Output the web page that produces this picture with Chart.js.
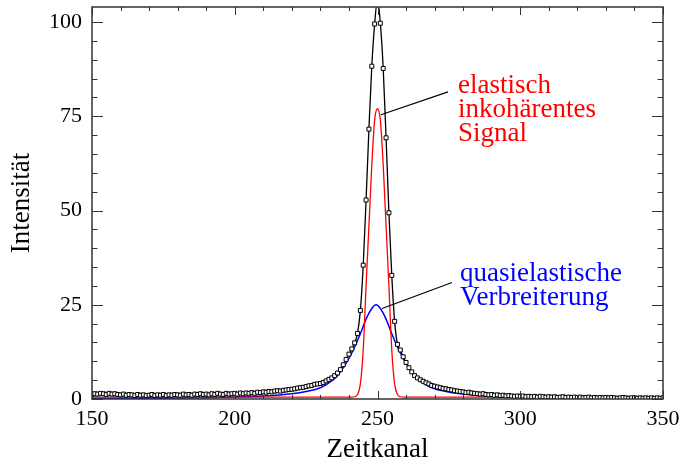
<!DOCTYPE html>
<html>
<head>
<meta charset="utf-8">
<script src="https://cdn.jsdelivr.net/npm/chart.js@4.4.1/dist/chart.umd.min.js"></script>
<style>
  html, body { margin: 0; padding: 0; background: #fff; }
  #wrap { width: 684px; height: 466px; }
</style>
</head>
<body>
<div id="wrap"><canvas id="chart"></canvas></div>
<script>
// ── Messdaten (Zeitkanal 150 … 350, ein Wert pro Kanal) ─────────
const firstChannel = 150;
const counts = [
  1.2, 1.4, 1.3, 1.5, 1.4, 1.2, 1.5, 1.3, 1.4, 1.2,
  1.1, 1.3, 1.0, 1.2, 1.1, 0.9, 1.2, 1.0, 1.1, 0.9,
  1.0, 1.2, 0.9, 1.1, 1.0, 1.2, 0.9, 1.1, 1.0, 1.2,
  1.1, 1.0, 1.3, 1.1, 1.2, 1.0, 1.3, 1.2, 1.4, 1.2,
  1.3, 1.1, 1.4, 1.2, 1.5, 1.3, 1.2, 1.5, 1.3, 1.4,
  1.5, 1.3, 1.6, 1.4, 1.6, 1.5, 1.7, 1.5, 1.8, 1.7,
  1.9, 1.8, 2.0, 1.9, 2.1, 2.2, 2.1, 2.3, 2.4, 2.5,
  2.6, 2.7, 2.9, 3.0, 3.1, 3.3, 3.5, 3.6, 3.9, 4.0,
  4.1, 4.4, 4.8, 5.2, 5.6, 6.2, 6.9, 7.8, 9.1, 10.5,
  11.9, 13.3, 14.9, 17.4, 23.5, 35.5, 52.8, 71.6, 88.3, 99.5,
  106, 99.7, 87.7, 69.3, 49.4, 32.8, 20.6, 14.5, 13.0, 11.2,
  9.7, 8.3, 7.2, 6.2, 5.6, 5.1, 4.7, 4.3, 4.0, 3.6,
  3.4, 3.2, 3.0, 2.8, 2.7, 2.5, 2.4, 2.2, 2.1, 2.0,
  1.9, 1.7, 1.8, 1.6, 1.5, 1.4, 1.3, 1.4, 1.2, 1.1,
  1.2, 1.0, 1.1, 0.9, 1.0, 0.8, 0.9, 0.8, 0.7, 0.8,
  0.7, 0.8, 0.6, 0.7, 0.6, 0.7, 0.5, 0.7, 0.6, 0.5,
  0.6, 0.5, 0.6, 0.4, 0.5, 0.6, 0.4, 0.5, 0.4, 0.5,
  0.4, 0.5, 0.3, 0.4, 0.5, 0.3, 0.4, 0.3, 0.4, 0.3,
  0.4, 0.3, 0.4, 0.3, 0.2, 0.3, 0.4, 0.3, 0.2, 0.3,
  0.3, 0.2, 0.3, 0.2, 0.3, 0.2, 0.3, 0.2, 0.3, 0.2, 0.3
];
const channels = counts.map((_, i) => firstChannel + i);

// ── elastisch inkohärentes Signal (rot) ────────────────────────
const elasticX = [150, 241, 242, 243, 244, 245, 246, 247, 248, 249, 250, 251, 252, 253, 254, 255, 256, 257, 258, 259, 350];
const elasticY = [0.5, 0.5, 0.6, 1.2, 4.0, 13, 30, 46, 62, 74, 77, 74, 62, 46, 30, 13, 4.0, 1.2, 0.6, 0.5, 0.5];

// ── quasielastische Verbreiterung (blau) ───────────────────────
const quasiX = [150, 170, 190, 200, 210, 220, 225, 230, 233, 236, 238, 240, 242, 244, 246, 248, 249.5,
                251, 253, 255, 257, 259, 261, 263, 266, 269, 274, 279, 289, 299, 310, 330, 350];
const quasiY = [0.1, 0.2, 0.35, 0.5, 0.8, 1.4, 2.0, 3.0, 4.3, 6.2, 8.3, 10.8, 13.8, 17.3, 21.2, 24.0, 25.0,
                24.0, 21.2, 17.3, 13.8, 10.8, 8.3, 6.2, 4.3, 3.0, 2.0, 1.4, 0.8, 0.5, 0.35, 0.2, 0.1];

// ── Achsen ─────────────────────────────────────────────────────
const xTicks = [150, 200, 250, 300, 350];
const yTicks = [0, 25, 50, 75, 100];

// ── Beschriftungen mit Hinweislinie (Datenkoordinaten) ─────────
const notes = [
  { lines: ["elastisch", "inkohärentes", "Signal"], color: "#ff0000", at: [278.2, 81.2], from: [251.2, 75.4], to: [274.7, 81.5] },
  { lines: ["quasielastische", "Verbreiterung"],    color: "#0000ff", at: [278.9, 31.4], from: [251.6, 24.0], to: [276.1, 30.9] },
];

const SERIF = "'Liberation Serif', 'Times New Roman', serif";
const pairs = (xs, ys) => xs.map((x, i) => ({ x, y: ys[i] }));

// Rahmen, nach innen zeigende Ticks und Anmerkungen
const framePlugin = {
  id: "frame",
  afterDatasetsDraw(chart) {
    const { ctx, chartArea: a, scales: { x, y } } = chart;
    ctx.save();
    ctx.strokeStyle = "#333";
    ctx.lineWidth = 1.5;
    ctx.strokeRect(a.left, a.top, a.right - a.left, a.bottom - a.top);

    ctx.lineWidth = 1;
    ctx.beginPath();
    for (let v = x.min; v <= x.max; v += 10) {
      const px = Math.round(x.getPixelForValue(v)) + 0.5;
      const len = (v - x.min) % 50 === 0 ? 8 : 4;
      ctx.moveTo(px, a.bottom); ctx.lineTo(px, a.bottom - len);
      ctx.moveTo(px, a.top);    ctx.lineTo(px, a.top + len);
    }
    for (let v = 0; v <= y.max; v += 5) {
      const py = Math.round(y.getPixelForValue(v)) + 0.5;
      const len = v % 25 === 0 ? 11 : 5.5;
      ctx.moveTo(a.left, py);  ctx.lineTo(a.left + len, py);
      ctx.moveTo(a.right, py); ctx.lineTo(a.right - len, py);
    }
    ctx.stroke();

    notes.forEach(n => {
      ctx.strokeStyle = "#000";
      ctx.lineWidth = 1.2;
      ctx.beginPath();
      ctx.moveTo(x.getPixelForValue(n.from[0]), y.getPixelForValue(n.from[1]));
      ctx.lineTo(x.getPixelForValue(n.to[0]), y.getPixelForValue(n.to[1]));
      ctx.stroke();

      ctx.fillStyle = n.color;
      ctx.font = "27px " + SERIF;
      ctx.textAlign = "left";
      ctx.textBaseline = "alphabetic";
      const tx = x.getPixelForValue(n.at[0]);
      const ty = y.getPixelForValue(n.at[1]);
      n.lines.forEach((s, i) => ctx.fillText(s, tx, ty + i * 24));
    });
    ctx.restore();
  }
};

new Chart(document.getElementById("chart"), {
  type: "scatter",
  data: {
    datasets: [
      {
        label: "Messung",
        data: pairs(channels, counts),
        showLine: true,
        borderColor: "#000",
        borderWidth: 1.3,
        cubicInterpolationMode: "monotone",
        pointStyle: "rect",
        pointRadius: 2.8,
        pointBorderWidth: 1,
        pointBorderColor: "#000",
        pointBackgroundColor: "#fff",
        order: 0,
      },
      {
        label: "elastisch",
        data: pairs(elasticX, elasticY),
        showLine: true,
        borderColor: "#ff0000",
        borderWidth: 1.3,
        cubicInterpolationMode: "monotone",
        pointRadius: 0,
        order: 1,
      },
      {
        label: "quasielastisch",
        data: pairs(quasiX, quasiY),
        showLine: true,
        borderColor: "#0000ff",
        borderWidth: 1.5,
        cubicInterpolationMode: "monotone",
        pointRadius: 0,
        order: 2,
      },
    ],
  },
  options: {
    responsive: true,
    maintainAspectRatio: false,
    animation: false,
    devicePixelRatio: 1,
    layout: { padding: { top: 7, right: 21, left: 0, bottom: 0 } },
    plugins: { legend: { display: false }, tooltip: { enabled: false } },
    scales: {
      x: {
        type: "linear",
        min: 150, max: 350,
        afterBuildTicks: s => { s.ticks = xTicks.map(v => ({ value: v })); },
        afterFit: s => { s.height = 67; s.paddingLeft = 0; s.paddingRight = 0; },
        grid: { display: false, drawTicks: false },
        border: { display: false },
        ticks: { font: { family: SERIF, size: 22 }, color: "#000", padding: 7, maxRotation: 0 },
        title: { display: true, text: "Zeitkanal", color: "#000", font: { family: SERIF, size: 27, lineHeight: 1 }, padding: { top: 0, bottom: 3 } },
      },
      y: {
        type: "linear",
        min: 0, max: 104,
        afterBuildTicks: s => { s.ticks = yTicks.map(v => ({ value: v })); },
        afterFit: s => { s.width = 92; s.paddingTop = 0; s.paddingBottom = 0; },
        grid: { display: false, drawTicks: false },
        border: { display: false },
        ticks: { font: { family: SERIF, size: 22 }, color: "#000", padding: 10 },
        title: { display: true, text: "Intensität", color: "#000", font: { family: SERIF, size: 27, lineHeight: 1 }, padding: { top: 8, bottom: 0 } },
      },
    },
  },
  plugins: [framePlugin],
});
</script>
</body>
</html>
